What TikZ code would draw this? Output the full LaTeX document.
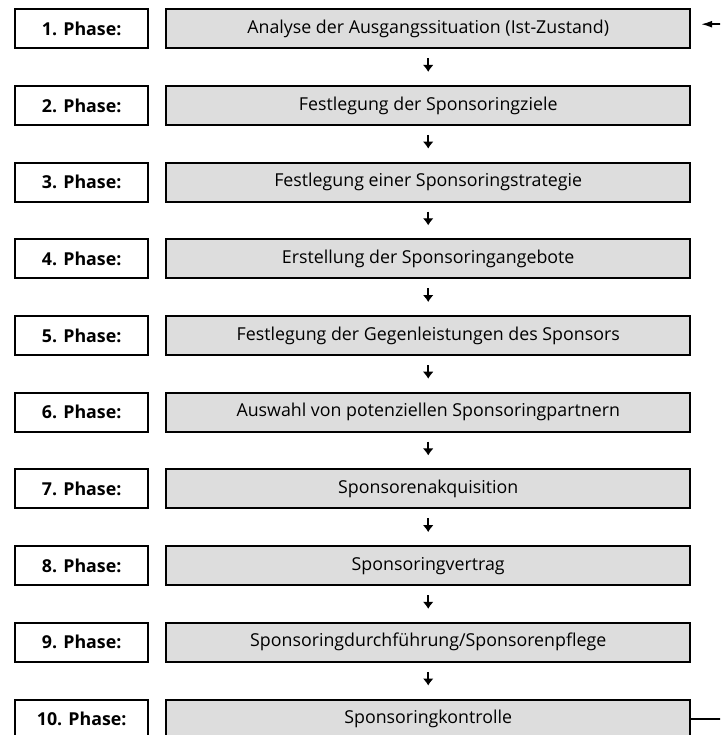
\documentclass[tikz,border=0pt]{standalone}
\usepackage{fontspec}
\setmainfont{Open Sans}
\usetikzlibrary{arrows.meta, positioning, matrix}
\definecolor{stagegray}{RGB}{221,221,221}

\begin{document}
\begin{tikzpicture}[x=1pt, y=1pt, font=\fontsize{17.8}{21}\selectfont,
    phase/.style={draw, line width=2pt, minimum width=133pt, minimum height=39pt, inner sep=0pt, font=\fontsize{17.8}{21}\selectfont\bfseries},
    stage/.style={draw, line width=2pt, fill=stagegray, minimum width=524pt, minimum height=39pt, inner sep=0pt},
    next/.style={-{Latex[length=7pt, width=11pt]}, line width=1.8pt, shorten <=9pt, shorten >=13pt},
    loop/.style={-{Latex[length=11pt, width=7pt]}, line width=1.4pt, shorten >=10pt}]
    \useasboundingbox (0,0) rectangle (720,-735);
    \clip (0,0) rectangle (720,-735);

    \node[matrix, column sep={16pt}, row sep={35.7pt}, inner sep=0pt, anchor=north west] (plan) at (14,-8)
    {
        \node[phase] (p1) {1. Phase:};  & \node[stage] (s1) {Analyse der Ausgangssituation (Ist-Zustand)}; \\
        \node[phase] (p2) {2. Phase:};  & \node[stage] (s2) {Festlegung der Sponsoringziele}; \\
        \node[phase] (p3) {3. Phase:};  & \node[stage] (s3) {Festlegung einer Sponsoringstrategie}; \\
        \node[phase] (p4) {4. Phase:};  & \node[stage] (s4) {Erstellung der Sponsoringangebote}; \\
        \node[phase] (p5) {5. Phase:};  & \node[stage] (s5) {Festlegung der Gegenleistungen des Sponsors}; \\
        \node[phase] (p6) {6. Phase:};  & \node[stage] (s6) {Auswahl von potenziellen Sponsoringpartnern}; \\
        \node[phase] (p7) {7. Phase:};  & \node[stage] (s7) {Sponsorenakquisition}; \\
        \node[phase] (p8) {8. Phase:};  & \node[stage] (s8) {Sponsoringvertrag}; \\
        \node[phase] (p9) {9. Phase:};  & \node[stage] (s9) {Sponsoringdurchführung/Sponsorenpflege}; \\
        \node[phase] (p10) {10. Phase:}; & \node[stage] (s10) {Sponsoringkontrolle}; \\
    };

    \draw[next] (s1) -- (s2);
    \draw[next] (s2) -- (s3);
    \draw[next] (s3) -- (s4);
    \draw[next] (s4) -- (s5);
    \draw[next] (s5) -- (s6);
    \draw[next] (s6) -- (s7);
    \draw[next] (s7) -- (s8);
    \draw[next] (s8) -- (s9);
    \draw[next] (s9) -- (s10);

    % Rueckkopplung, laeuft ueber den rechten Rand hinaus
    \draw[loop] (s10.east) -- ++(60,0) |- ([yshift=4.5pt] s1.east);
\end{tikzpicture}
\end{document}
